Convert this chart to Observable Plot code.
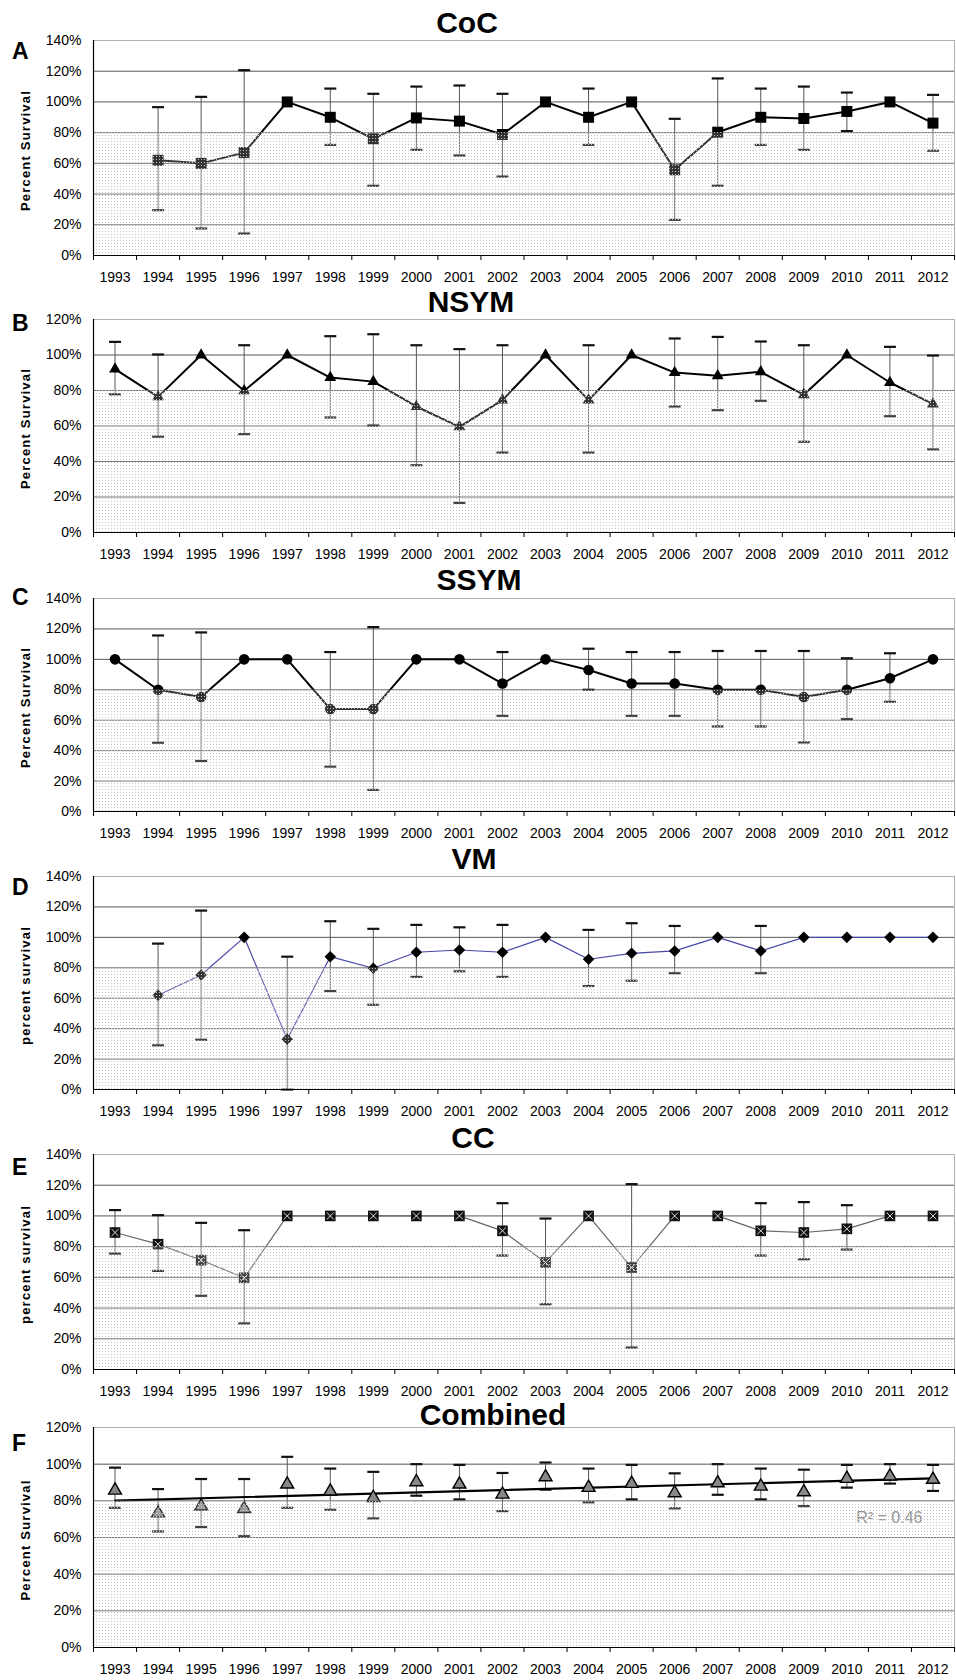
<!DOCTYPE html>
<html><head><meta charset="utf-8">
<script src="https://cdn.jsdelivr.net/npm/d3@7"></script>
<script src="https://cdn.jsdelivr.net/npm/@observablehq/plot@0.6"></script>
<style>
body{margin:0;background:#fff;}
#page{position:relative;width:956px;height:1680px;font-family:"Liberation Sans",Arial,sans-serif;overflow:hidden;}
.panel{position:absolute;left:0;}
#overlay{position:absolute;left:0;top:0;pointer-events:none;}
</style></head><body>
<svg width="0" height="0" style="position:absolute">
 <defs>
  <pattern id="stipple" patternUnits="userSpaceOnUse" width="3" height="3">
    <rect width="3" height="3" fill="#ffffff" fill-opacity="0.2"/>
    <rect width="1" height="1" fill="#c4c4c4"/>
  </pattern>
 </defs>
</svg>
<div id="page"></div>
<script>
// ---------- data ----------
const years = [1993,1994,1995,1996,1997,1998,1999,2000,2001,2002,2003,2004,2005,2006,2007,2008,2009,2010,2011,2012];

const cocMean  = [null,62,60,67,100,90,76,89.6,87.5,78.8,100,90,100,55.8,80.3,90,89.2,93.8,100,86.2];
const cocUpper = [null,96.6,103.3,120.7,null,108.7,105.3,110,110.7,105.3,null,108.7,null,89,115.3,108.7,110,106.1,null,104.6];
const cocLower = [null,29.5,17.6,14.3,null,72,45.4,68.8,65.1,51.4,null,72,null,23.2,45.4,72,68.8,81,null,68.2];

const nsymMean  = [92,76.4,100,79.8,100,87.3,85,71,59.5,74.6,100,74.6,100,90.1,88.3,90.5,77.6,100,84.5,72.3];
const nsymUpper = [107.4,100.3,null,105.5,null,110.6,111.7,105.5,103.3,105.5,null,105.5,null,109.3,110.2,107.6,105.5,null,104.6,99.7];
const nsymLower = [77.9,54,null,55.4,null,64.8,60.3,37.9,16.7,45,null,45,null,71,68.9,74.2,51.1,null,65.5,46.8];

const ssymMean  = [100,80,75.3,100,100,67.3,67.3,100,100,84.1,100,93,84.1,84.1,80,80,75.3,80,87.6,100];
const ssymUpper = [null,115.7,117.7,null,null,104.8,121.2,null,null,104.8,null,107,104.8,104.8,105.5,105.5,105.5,100.7,104,null];
const ssymLower = [null,45.2,33.2,null,null,29.5,14.2,null,null,62.9,null,80,62.9,62.9,55.9,55.9,45.4,60.7,72.1,null];

const vmMean  = [null,61.9,75.3,100,33.1,87.3,79.7,90.2,91.7,90.2,100,85.6,89.5,91.1,100,91.1,100,100,100,100];
const vmUpper = [null,95.9,117.6,null,87.3,110.6,105.6,108.2,106.6,108.2,null,104.9,109.3,107.5,null,107.5,null,null,null,null];
const vmLower = [null,29,32.7,null,0,64.7,55.7,74,77.7,74,null,68,71.5,76.4,null,76.4,null,null,null,null];

const ccMean  = [89.2,81.6,71.2,59.7,100,100,100,100,100,90.3,69.7,100,66.4,100,100,90.3,89.2,91.6,100,100];
const ccUpper = [103.8,100.5,95.5,90.7,null,null,null,null,null,108.3,98.3,null,120.7,null,null,108.3,109,107,null,null];
const ccLower = [75.5,64.2,48,30,null,null,null,null,null,74.2,42.5,null,14.3,null,null,74.2,71.8,78.1,null,null];

const combMean  = [85.7,73.3,77,75.7,89,85.2,81.7,90.3,89,83.5,93,87.2,89.4,84.3,89.7,87.9,84.8,92.1,93.4,91.6];
const combUpper = [98.1,86.4,91.9,91.9,104,97.6,95.8,100,99.6,95.2,100.9,97.6,99.6,95,100,97.6,97,99.6,100,99.6];
const combLower = [76.2,63.3,65.7,60.7,76.2,75.1,70.4,82.8,80.8,74.4,86.1,79.2,80.8,75.9,83.3,80.8,77.1,87.2,89.4,85.4];

const panelLetters = ["A","B","C","D","E","F"];
const panelTitles  = ["CoC","NSYM","SSYM","VM","CC","Combined"];
const yLabels = ["Percent Survival","Percent Survival","Percent Survival","percent survival","percent survival","Percent Survival"];
const yMax = [140,120,140,140,140,120];
const shadeLevel = 80;
const r2Label = "R\u00b2 = 0.46";

// ---------- layout & style ----------
const layout = [
  {top:40,   bottom:255,  titleX:467, titleY:33,   letterY:59},
  {top:319,  bottom:532,  titleX:471, titleY:312,  letterY:331},
  {top:598,  bottom:811,  titleX:479, titleY:590,  letterY:605},
  {top:876,  bottom:1089, titleX:474, titleY:869,  letterY:895},
  {top:1154, bottom:1369, titleX:473, titleY:1148, letterY:1175},
  {top:1427, bottom:1647, titleX:493, titleY:1425, letterY:1451}
];
const series = [
  {mean:cocMean,  hi:cocUpper,  lo:cocLower,  kind:"square"},
  {mean:nsymMean, hi:nsymUpper, lo:nsymLower, kind:"triangle"},
  {mean:ssymMean, hi:ssymUpper, lo:ssymLower, kind:"circle"},
  {mean:vmMean,   hi:vmUpper,   lo:vmLower,   kind:"diamond"},
  {mean:ccMean,   hi:ccUpper,   lo:ccLower,   kind:"xsquare"},
  {mean:combMean, hi:combUpper, lo:combLower, kind:"otriangle"}
];

const capSymbol = {draw(ctx, size){ const w = Math.sqrt(size/Math.PI); ctx.moveTo(-w,0); ctx.lineTo(w,0); }};

const page = document.getElementById("page");
const mt = 10, mb = 33;
const xDom = [years[0]-0.5, years[years.length-1]+0.5];
const bounds = d3.range(years.length+1).map(i => years[0]-0.5+i);

series.forEach((s, k) => {
  const L = layout[k];
  const rows = years.map((year,i)=>({year, mean:s.mean[i], lo:s.lo[i], hi:s.hi[i]})).filter(d=>d.mean!=null);
  const bars = rows.filter(d=>d.hi!=null);
  const ymax = yMax[k];
  const yTicks = d3.range(0, ymax+1, 20);
  const H = L.bottom - L.top;

  let dataMarks = [];
  if (s.kind === "square") {
    dataMarks = [Plot.line(rows,{x:"year",y:"mean",stroke:"#000",strokeWidth:2}),
                 Plot.dot(rows,{x:"year",y:"mean",symbol:"square",r:6.2,fill:"#000"})];
  } else if (s.kind === "triangle") {
    dataMarks = [Plot.line(rows,{x:"year",y:"mean",stroke:"#000",strokeWidth:2}),
                 Plot.dot(rows,{x:"year",y:"mean",symbol:"triangle",r:4.4,fill:"#000"})];
  } else if (s.kind === "circle") {
    dataMarks = [Plot.line(rows,{x:"year",y:"mean",stroke:"#000",strokeWidth:2}),
                 Plot.dot(rows,{x:"year",y:"mean",symbol:"circle",r:5.3,fill:"#000"})];
  } else if (s.kind === "diamond") {
    dataMarks = [Plot.line(rows,{x:"year",y:"mean",stroke:"#4848a8",strokeWidth:1.2}),
                 Plot.dot(rows,{x:"year",y:"mean",symbol:"diamond2",r:5.2,fill:"#000"})];
  } else if (s.kind === "xsquare") {
    dataMarks = [Plot.line(rows,{x:"year",y:"mean",stroke:"#666",strokeWidth:1.2}),
                 Plot.dot(rows,{x:"year",y:"mean",symbol:"square",r:6,fill:"#111"}),
                 Plot.dot(rows,{x:"year",y:"mean",symbol:"times",r:3.2,stroke:"#ddd",strokeWidth:1})];
  } else {
    dataMarks = [Plot.linearRegressionY(rows,{x:"year",y:"mean",stroke:"#000",strokeWidth:2.2,ci:0}),
                 Plot.dot(rows,{x:"year",y:"mean",symbol:"triangle",r:4.8,fill:"#888",stroke:"#000",strokeWidth:1.4}),
                 Plot.text([r2Label],{frameAnchor:"top-right",dx:-32,dy:84,text:d=>d,fill:"#777",fontSize:16})];
  }

  const chart = Plot.plot({
    width: 956,
    height: mt + H + mb,
    marginLeft: 93, marginRight: 2, marginTop: mt, marginBottom: mb,
    style: {fontFamily:"'Liberation Sans', Arial, sans-serif", fontSize:"14px", color:"#000", background:"transparent", overflow:"visible"},
    x: {type:"linear", domain:xDom, label:null},
    y: {domain:[0,ymax], label:null},
    marks: [
      Plot.ruleY(yTicks.filter(t=>t>0 && t<ymax), {stroke:"#555", strokeWidth:1}),
      Plot.frame({stroke:"#b0b0b0"}),
      Plot.ruleX(bars, {x:"year", y1:"lo", y2:"hi", stroke:"#555", strokeWidth:1}),
      Plot.dot(bars, {x:"year", y:"hi", symbol:capSymbol, r:6, stroke:"#111", strokeWidth:2.2}),
      Plot.dot(bars, {x:"year", y:"lo", symbol:capSymbol, r:6, stroke:"#111", strokeWidth:2.2}),
      ...dataMarks,
      Plot.rect([shadeLevel], {y1:()=>0, y2:d=>d, fill:"url(#stipple)"}),
      Plot.ruleY([0], {stroke:"#000", strokeWidth:1.2}),
      Plot.ruleX([xDom[0]], {stroke:"#000", strokeWidth:1.2}),
      Plot.axisX({ticks:bounds, tickSize:5, tickFormat:()=>"", label:null, stroke:"#000"}),
      Plot.axisX({ticks:years, tickSize:0, tickPadding:17, tickFormat:d=>String(d), label:null, fontSize:14}),
      Plot.axisY({ticks:yTicks, tickSize:0, tickPadding:12, tickFormat:d=>d+"%", label:null, fontSize:14})
    ]
  });
  const div = document.createElement("div");
  div.className = "panel";
  div.style.top = (L.top - mt) + "px";
  div.appendChild(chart);
  page.appendChild(div);
});

// ---------- text overlay (titles, panel letters, axis titles) ----------
const NS = "http://www.w3.org/2000/svg";
const ov = document.createElementNS(NS, "svg");
ov.setAttribute("id","overlay");
ov.setAttribute("width", 956);
ov.setAttribute("height", 1680);
ov.style.fontFamily = "'Liberation Sans', Arial, sans-serif";
function addText(str, attrs) {
  const t = document.createElementNS(NS, "text");
  for (const a in attrs) t.setAttribute(a, attrs[a]);
  t.textContent = str;
  ov.appendChild(t);
}
layout.forEach((L, k) => {
  addText(panelTitles[k], {x:L.titleX, y:L.titleY, "text-anchor":"middle", "font-size":30, "font-weight":"bold"});
  addText(panelLetters[k], {x:12, y:L.letterY, "font-size":23, "font-weight":"bold"});
  const mid = (L.top + L.bottom)/2 + 3;
  addText(yLabels[k], {transform:`translate(30,${mid}) rotate(-90)`, "text-anchor":"middle", "font-size":13, "font-weight":"bold", "letter-spacing":1.2});
});
page.appendChild(ov);
</script>
</body></html>
